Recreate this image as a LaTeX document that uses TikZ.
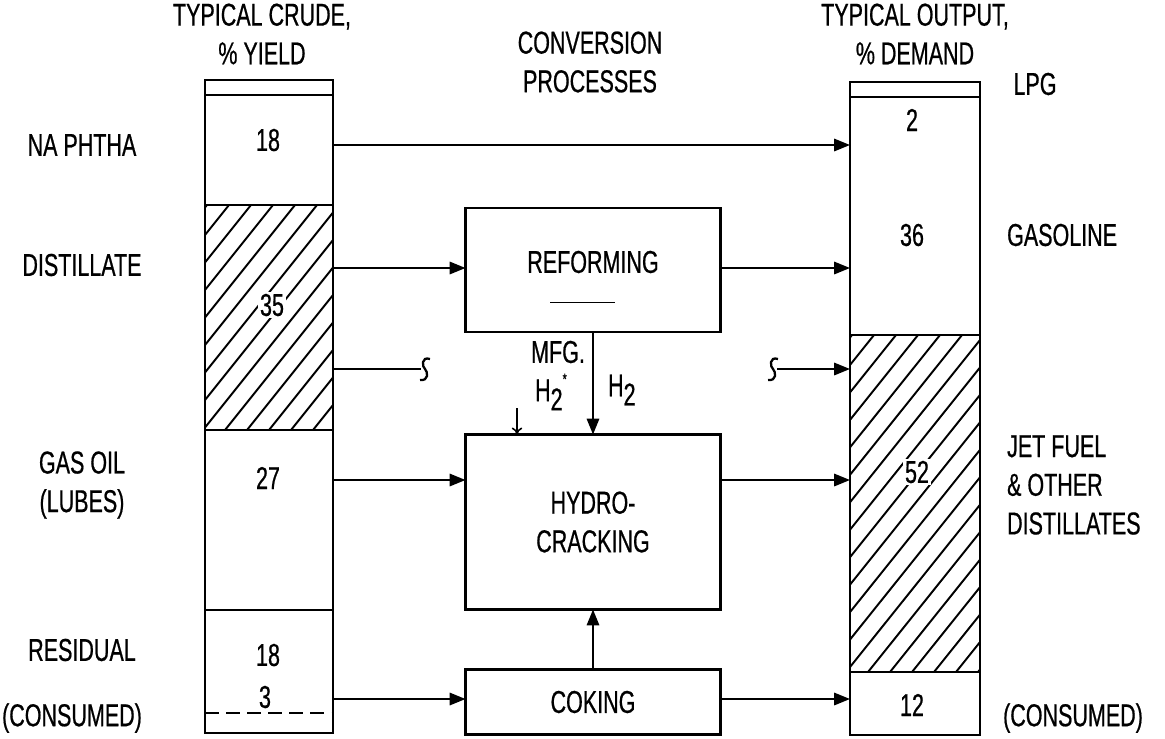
\documentclass[tikz,border=0pt]{standalone}
\usepackage{fontspec}
\setmainfont{Liberation Sans}[FakeStretch=0.68,FakeBold=0.6]
\usetikzlibrary{arrows.meta}
\tikzset{
  procbox/.style={draw,line width=1.5pt,minimum width=5.1cm,inner sep=0pt,outer sep=0pt},
  col/.style={line width=1.3pt},
  flow/.style={line width=1.2pt,-{Triangle[length=9pt,width=7pt]}},
  hatch/.style={line width=1.1pt},
  lbl/.style={font=\fontsize{18}{22}\selectfont,align=center,inner sep=1pt},
}
\newcommand{\squig}[1]{\draw[line width=1.3pt] ($(#1)+(5,-10)$) .. controls ($(#1)+(-4,-13)$) and ($(#1)+(-3,-2)$) .. (#1) .. controls ($(#1)+(3,3)$) and ($(#1)+(4,12)$) .. ($(#1)+(-5,11)$);}
\newcommand{\htwo}{H\raisebox{-0.55ex}{2}}
\usetikzlibrary{calc}
\begin{document}
\begin{tikzpicture}[x=0.02cm,y=-0.02cm]
  \useasboundingbox (0,0) rectangle (1165,738);

  % crude column
  \begin{scope}
    \clip (205,205) rectangle (333,430);
    \foreach \i in {0,...,17}
      \draw[hatch] ({5+22*\i},430) -- ++(200,-250);
  \end{scope}
  \draw[col] (205,80) rectangle (333,733);
  \foreach \y in {95,205,430,610}
    \draw[col] (205,\y) -- (333,\y);
  \draw[col,dashed,dash pattern=on 8pt off 4pt] (205,713) -- (333,713);

  % output column
  \begin{scope}
    \clip (850,335) rectangle (980,672);
    \foreach \i in {0,...,20}
      \draw[hatch] ({560+22*\i},672) -- ++(270,-337);
  \end{scope}
  \draw[col] (850,82) rectangle (980,735);
  \foreach \y in {97,335,672}
    \draw[col] (850,\y) -- (980,\y);

  % headings
  \node[lbl] (crudehead) at (262,34) {TYPICAL CRUDE,\\\% YIELD};
  \node[lbl] (convhead) at (590,62) {CONVERSION\\PROCESSES};
  \node[lbl] (outhead) at (915,34) {TYPICAL OUTPUT,\\\% DEMAND};

  % crude labels
  \node[lbl] (naphtha) at (82,145) {NA PHTHA};
  \node[lbl] (distillate) at (82,265) {DISTILLATE};
  \node[lbl] (gasoil) at (82,485) {GAS OIL\\(LUBES)};
  \node[lbl] (residual) at (82,650) {RESIDUAL};
  \node[lbl,anchor=west] (consumedl) at (0,718) {(CONSUMED)};
  \node[lbl] (n18a) at (268,140) {18};
  \node[lbl,fill=white] (n35) at (272,305) {35};
  \node[lbl] (n27) at (268,478) {27};
  \node[lbl] (n18b) at (268,655) {18};
  \node[lbl] (n3) at (265,697) {3};

  % output labels
  \node[lbl] (lpg) at (1035,84) {LPG};
  \node[lbl,anchor=west] (gasoline) at (1005,235) {GASOLINE};
  \node[lbl,align=left,anchor=west] (jetfuel) at (1005,485) {JET FUEL\\\& OTHER\\DISTILLATES};
  \node[lbl,anchor=east] (consumedr) at (1145,718) {(CONSUMED)};
  \node[lbl] (n2) at (912,120) {2};
  \node[lbl] (n36) at (912,235) {36};
  \node[lbl,fill=white] (n52) at (917,472) {52};
  \node[lbl] (n12) at (912,705) {12};

  % process boxes
  \node[procbox,minimum height=2.48cm] (reform) at (593,270) {};
  \node[lbl] (reformtxt) at (593,262) {REFORMING};
  \draw[line width=0.5pt] (550,302) -- (615,302);
  \node[procbox,minimum height=3.5cm] (hydro) at (593,522) {};
  \node[lbl] (hydrotxt) at (593,522) {HYDRO-\\CRACKING};
  \node[procbox,minimum height=1.3cm] (coking) at (593,702) {};
  \node[lbl] (cokingtxt) at (593,702) {COKING};

  % tap points
  \coordinate (cN) at (333,145);
  \coordinate (cD) at (333,268);
  \coordinate (cS) at (333,369);
  \coordinate (cG) at (333,480);
  \coordinate (cR) at (333,699);
  \coordinate (oN) at (850,145);
  \coordinate (oS) at (850,369);
  \coordinate (sL) at (425,369);
  \coordinate (sR) at (773,369);

  % flows
  \draw[flow] (cN) -- (oN);
  \draw[flow] (cD) -- (reform.west |- cD);
  \draw[flow] (reform.east |- cD) -- (850,268);
  \draw[line width=1.2pt] (cS) -- ($(sL)+(-4,0)$);
  \squig{sL}
  \squig{sR}
  \draw[flow] ($(sR)+(4,0)$) -- (oS);
  \draw[flow] (cG) -- (hydro.west |- cG);
  \draw[flow] (hydro.east |- cG) -- (850,480);
  \draw[flow] (cR) -- (coking.west |- cR);
  \draw[flow] (coking.east |- cR) -- (850,699);
  \draw[flow] (coking.north) -- (hydro.south);
  \draw[flow] (reform.south) -- (hydro.north);
  \coordinate (mfg) at (517,408);
  \draw[line width=0.9pt,-{To[length=4pt,width=6pt]}] (mfg) -- (mfg |- hydro.north);

  % hydrogen labels
  \node[lbl,anchor=east] (mfgtxt) at (587,352) {MFG.};
  \node[lbl,anchor=west] (mfgh) at (533,392) {\htwo\raisebox{1.0ex}{\small *}};
  \node[lbl,anchor=west] (h2txt) at (606,390) {\htwo};
\end{tikzpicture}
\end{document}
